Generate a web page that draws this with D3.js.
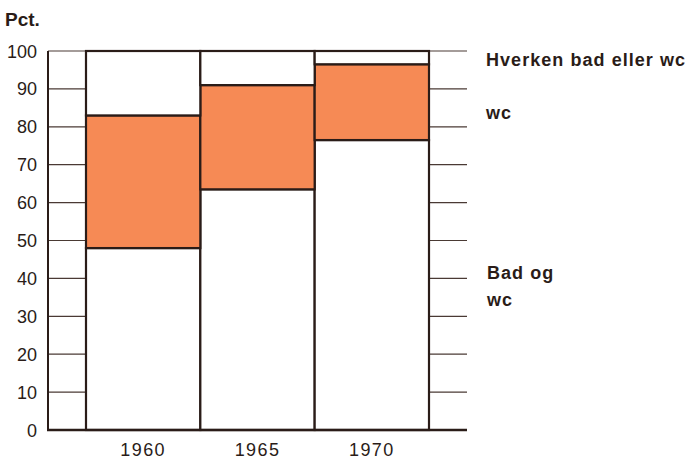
<html>
  <head>
    <meta charset="UTF-8" />
    <script src="https://cdnjs.cloudflare.com/ajax/libs/d3/7.8.5/d3.min.js"></script>
    <style>
      body { margin: 0; background: #fff; }
      text { font-family: "Liberation Sans", Arial, sans-serif; fill: #2a1c18; }
    </style>
  </head>
  <body>
    <svg id="chart" width="691" height="466"></svg>
    <script>
      // data (pct. of dwellings)
      const years = ["1960", "1965", "1970"];
      const badOgWc = [48, 63.5, 76.5];
      const kunWc = [35, 27.5, 20];
      const hverken = [17, 9, 3.5];
      const yTicks = [0, 10, 20, 30, 40, 50, 60, 70, 80, 90, 100];

      const ink = "#2a1c18";
      const orange = "#f68a55";

      const svg = d3.select("#chart");

      const rows = years.map((y, i) => ({
        year: y, bad: badOgWc[i], wc: kunWc[i], ingen: hverken[i]
      }));
      const series = d3.stack().keys(["bad", "wc", "ingen"])(rows);

      const y = d3.scaleLinear().domain([0, 100]).range([430, 51]);
      const x = d3.scaleBand().domain(years).range([86, 429]).padding(0);

      // grid lines, only visible in the side gaps
      const grid = svg.append("g");
      grid.selectAll(".gl")
        .data(yTicks)
        .enter()
        .append("line")
        .attr("x1", 48)
        .attr("x2", 467)
        .attr("y1", d => y(d))
        .attr("y2", d => y(d))
        .style("stroke", "#4a3a34")
        .style("stroke-width", 1.2);

      const fills = { bad: "#fff", wc: orange, ingen: "#fff" };

      svg.append("g")
        .selectAll("g")
        .data(series)
        .enter()
        .append("g")
        .style("fill", d => fills[d.key])
        .selectAll("rect")
        .data(d => d)
        .enter()
        .append("rect")
        .attr("x", d => x(d.data.year))
        .attr("width", x.bandwidth())
        .attr("y", d => y(d[1]))
        .attr("height", d => y(d[0]) - y(d[1]))
        .style("stroke", ink)
        .style("stroke-width", 2.2);

      // axis lines
      svg.append("line")
        .attr("x1", 48).attr("x2", 48)
        .attr("y1", y(100)).attr("y2", y(0))
        .style("stroke", ink).style("stroke-width", 2);
      svg.append("line")
        .attr("x1", 47).attr("x2", 467)
        .attr("y1", y(0)).attr("y2", y(0))
        .style("stroke", ink).style("stroke-width", 2.4);

      svg.append("g")
        .selectAll("text")
        .data(yTicks)
        .enter()
        .append("text")
        .attr("x", 37)
        .attr("y", d => y(d) + 6.5)
        .attr("text-anchor", "end")
        .style("font-size", "18px")
        .text(d => d);

      svg.append("g")
        .selectAll("text")
        .data(years)
        .enter()
        .append("text")
        .attr("x", d => x(d) + x.bandwidth() / 2)
        .attr("y", 456)
        .attr("text-anchor", "middle")
        .style("font-size", "18px")
        .style("letter-spacing", "1.4px")
        .text(d => d);

      svg.append("text")
        .attr("x", 5).attr("y", 26)
        .style("font-size", "19px")
        .style("font-weight", "bold")
        .text("Pct.");

      const labels = [
        { t: "Hverken bad eller wc", x: 486, y: 66 },
        { t: "wc", x: 486, y: 119 },
        { t: "Bad og", x: 487, y: 279 },
        { t: "wc", x: 487, y: 306 }
      ];
      svg.append("g")
        .selectAll("text")
        .data(labels)
        .enter()
        .append("text")
        .attr("x", d => d.x)
        .attr("y", d => d.y)
        .style("font-size", "18px")
        .style("font-weight", "bold")
        .style("letter-spacing", "1.05px")
        .text(d => d.t);
    </script>
  </body>
</html>
